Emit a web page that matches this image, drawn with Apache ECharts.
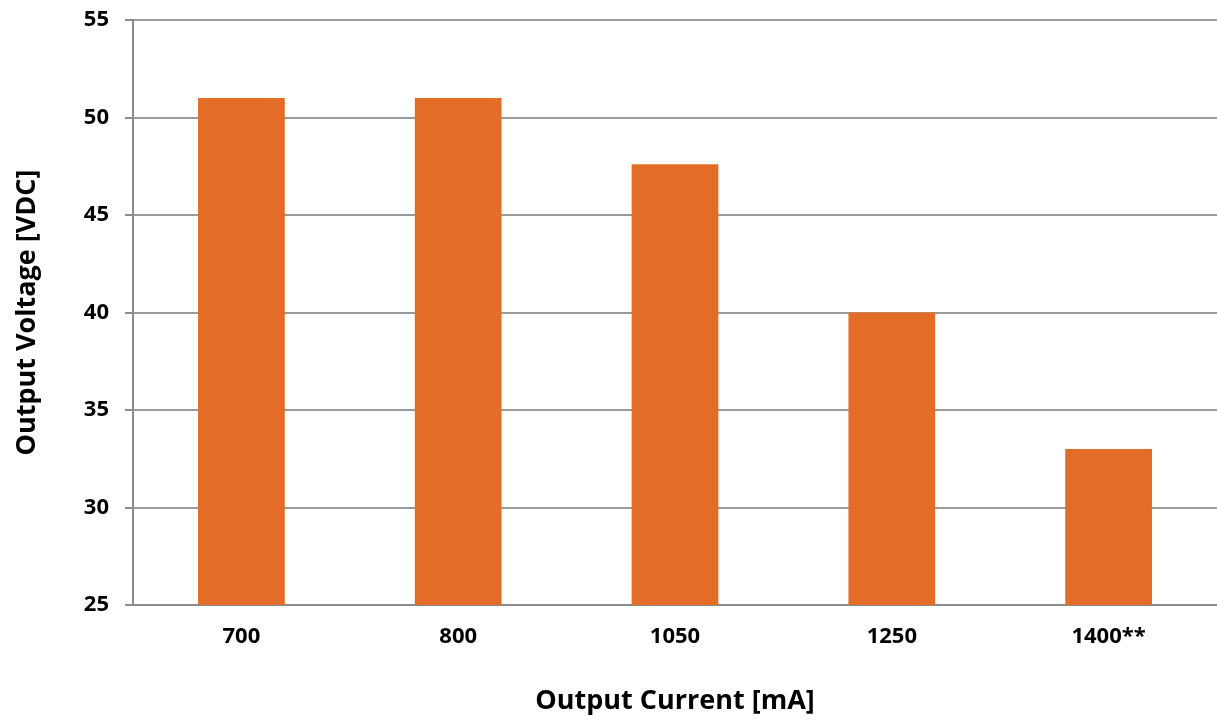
<!DOCTYPE html>
<html>
<head>
<meta charset="utf-8">
<script src="https://cdn.jsdelivr.net/npm/echarts@6/dist/echarts.min.js"></script>
<style>
  html, body { margin: 0; padding: 0; background: #fff; }
  #chart { width: 1217px; height: 720px; }
</style>
</head>
<body>
<div id="chart"></div>
<script>
// Output voltage at each output current setting
const currents = ['700', '800', '1050', '1250', '1400**'];
const voltages = [51, 51, 47.6, 40, 33];
const yTicks = [25, 30, 35, 40, 45, 50, 55];

const chart = echarts.init(document.getElementById('chart'));
const fontFamily = '"Open Sans", Lato, sans-serif';

chart.setOption({
  animation: false,
  grid: { left: 133, right: 0, top: 20, bottom: 115, containLabel: false },
  xAxis: {
    type: 'category',
    data: currents,
    name: 'Output Current [mA]',
    nameLocation: 'middle',
    nameGap: 83,
    nameTextStyle: { fontFamily, fontWeight: 'bold', fontSize: 27, color: '#000' },
    axisLine: { show: true, lineStyle: { color: '#8c8c8c', width: 2 } },
    axisTick: { show: false },
    axisLabel: { fontFamily, fontWeight: 'bold', fontSize: 22, color: '#000', margin: 21 }
  },
  yAxis: {
    type: 'value',
    min: yTicks[0],
    max: yTicks[yTicks.length - 1],
    interval: 5,
    name: 'Output Voltage [VDC]',
    nameLocation: 'middle',
    nameGap: 92,
    nameTextStyle: { fontFamily, fontWeight: 'bold', fontSize: 27, color: '#000' },
    axisLine: { show: true, lineStyle: { color: '#8c8c8c', width: 2 } },
    axisTick: { show: true, length: 8, lineStyle: { color: '#8c8c8c', width: 2 } },
    axisLabel: { fontFamily, fontWeight: 'bold', fontSize: 22, color: '#000', margin: 24 },
    splitLine: { show: true, lineStyle: { color: '#9a9a9a', width: 2 } }
  },
  series: [{
    type: 'bar',
    data: voltages,
    barWidth: '40%',
    itemStyle: { color: '#E36C26' }
  }]
});
</script>
</body>
</html>
